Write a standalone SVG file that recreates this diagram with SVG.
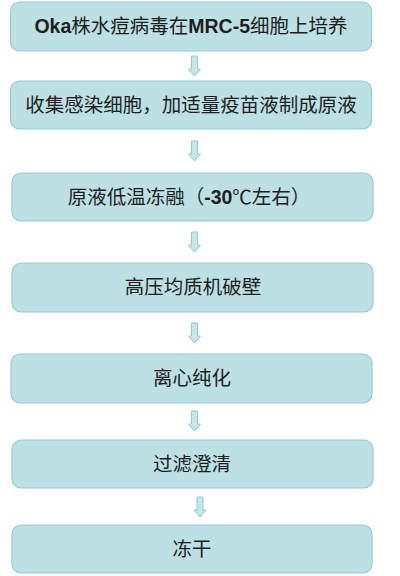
<svg xmlns="http://www.w3.org/2000/svg" width="400" height="576" viewBox="0 0 400 576">
<style>
.box{fill:#bce0e3;stroke:#92cdd3;stroke-width:1.2}
.t{font-family:"Liberation Sans","Noto Sans CJK SC",sans-serif;font-size:19.5px;fill:#1e1e1e;text-anchor:middle}
.b{font-weight:bold}
.cjk{font-family:"Noto Sans CJK SC",sans-serif}
.arr{fill:#c6e7ea;stroke:#8ccdd3;stroke-width:1}
</style>
<defs>
<path id="a" d="M-3,0 H3 V13 H6 L0,20 L-6,13 H-3 Z"/>
</defs>
<rect width="400" height="576" fill="#ffffff"/>
<g id="connectors">
<use href="#a" class="arr" x="194.5" y="56"/>
<use href="#a" class="arr" x="194.5" y="141"/>
<use href="#a" class="arr" x="194.5" y="232"/>
<use href="#a" class="arr" x="194.5" y="323"/>
<use href="#a" class="arr" x="194.5" y="411"/>
<use href="#a" class="arr" x="200" y="497"/>
</g>
<g id="n1">
<rect class="box" x="10.5" y="2" width="361" height="49" rx="9"/>
<text class="t" x="191" y="33"><tspan class="b">Oka</tspan>株水痘病毒在<tspan class="b">MRC-5</tspan>细胞上培养</text>
</g>
<g id="n2">
<rect class="box" x="10.5" y="81" width="361" height="48" rx="9"/>
<text class="t" x="191" y="112">收集感染细胞，加适量疫苗液制成原液</text>
</g>
<g id="n3">
<rect class="box" x="12" y="173" width="361" height="48" rx="9"/>
<text class="t" x="189" y="204">原液低温冻融（<tspan class="b">-30</tspan><tspan class="cjk">℃</tspan>左右）</text>
</g>
<g id="n4">
<rect class="box" x="12" y="263" width="361" height="49" rx="9"/>
<text class="t" x="193" y="294">高压均质机破壁</text>
</g>
<g id="n5">
<rect class="box" x="11" y="354" width="361" height="49" rx="9"/>
<text class="t" x="192" y="385">离心纯化</text>
</g>
<g id="n6">
<rect class="box" x="12" y="440" width="361" height="48" rx="9"/>
<text class="t" x="192" y="471">过滤澄清</text>
</g>
<g id="n7">
<rect class="box" x="12" y="525" width="360" height="48" rx="9"/>
<text class="t" x="192" y="556">冻干</text>
</g>
</svg>
